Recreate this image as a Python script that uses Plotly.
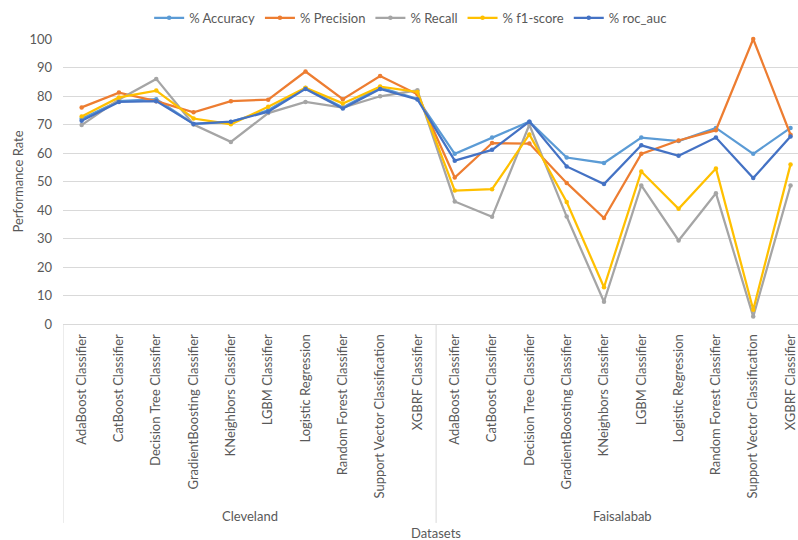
import plotly.graph_objects as go

models = ["AdaBoost Classifier", "CatBoost Classifier", "Decision Tree Classifier",
          "GradientBoosting Classifier", "KNeighbors Classifier", "LGBM Classifier",
          "Logistic Regression", "Random Forest Classifier",
          "Support Vector Classification", "XGBRF Classifier"]
datasets = ["Cleveland", "Faisalabab"]

accuracy_cle = [72.0, 78.2, 78.9, 70.2, 70.9, 75.0, 82.8, 76.0, 83.0, 79.0]
precision_cle = [76.0, 81.2, 78.2, 74.3, 78.2, 78.7, 88.6, 78.9, 87.0, 80.6]
recall_cle = [69.8, 78.8, 86.0, 70.0, 63.9, 74.0, 77.9, 75.9, 79.9, 82.0]
f1_cle = [72.8, 79.5, 81.9, 72.1, 70.1, 76.2, 82.9, 77.4, 83.3, 81.4]
roc_cle = [71.3, 77.9, 78.2, 70.2, 71.0, 74.5, 82.5, 75.6, 82.5, 78.8]

accuracy_fai = [59.7, 65.4, 71.0, 58.4, 56.5, 65.4, 64.2, 68.8, 59.7, 68.8]
precision_fai = [51.4, 63.5, 63.3, 49.5, 37.2, 59.7, 64.4, 68.0, 100.0, 66.4]
recall_fai = [43.0, 37.6, 69.9, 37.7, 7.8, 48.6, 29.3, 45.9, 2.6, 48.6]
f1_fai = [46.8, 47.3, 66.5, 42.8, 12.9, 53.5, 40.4, 54.6, 5.0, 56.0]
roc_fai = [57.3, 61.1, 71.0, 55.3, 49.1, 62.7, 59.0, 65.4, 51.2, 65.8]

series_names = ["% Accuracy", "% Precision", "% Recall", "% f1-score", "% roc_auc"]
colors = ["#5B9BD5", "#ED7D31", "#A5A5A5", "#FFC000", "#4472C4"]
series_vals = [accuracy_cle + accuracy_fai, precision_cle + precision_fai,
               recall_cle + recall_fai, f1_cle + f1_fai, roc_cle + roc_fai]

labels = models + models
xs = list(range(len(labels)))

FONT = "Lato"
TXT = "#595959"

fig = go.Figure()
for name, col, vals in zip(series_names, colors, series_vals):
    fig.add_trace(go.Scatter(
        x=xs, y=vals, name=name, mode="lines+markers",
        line=dict(color=col, width=2.25),
        marker=dict(color=col, size=4.5),
        cliponaxis=False,
    ))

n = len(models)
# group separators below axis
for xv in [-0.5, n - 0.5, 2 * n - 0.5]:
    fig.add_shape(type="line", xref="x", yref="paper", x0=xv, x1=xv, y0=0, y1=-0.698,
                  line=dict(color="#d9d9d9", width=1))

for i, ds in enumerate(datasets):
    fig.add_annotation(x=i * n + (n - 1) / 2, y=-0.674, xref="x", yref="paper",
                       text=ds, showarrow=False, yanchor="middle",
                       font=dict(family=FONT, size=13, color=TXT))

fig.add_annotation(x=n - 0.5, y=-0.733, xref="x", yref="paper", text="Datasets",
                   showarrow=False, yanchor="middle",
                   font=dict(family=FONT, size=13, color=TXT))

fig.update_layout(
    width=798, height=540,
    margin=dict(l=63, r=0, t=39, b=216, autoexpand=False),
    paper_bgcolor="white", plot_bgcolor="white",
    font=dict(family=FONT, size=13, color=TXT),
    showlegend=True,
    legend=dict(orientation="h", x=0.473, xanchor="center", y=1.074, yanchor="middle",
                font=dict(family=FONT, size=13, color=TXT),
                itemwidth=30, tracegroupgap=0),
    xaxis=dict(
        range=[-0.5, 19.2], tickmode="array", tickvals=xs, ticktext=labels,
        tickangle=-90, showgrid=False, zeroline=False, automargin=False,
        showline=True, linecolor="#d9d9d9", linewidth=1,
        ticks="", tickfont=dict(family=FONT, size=13, color=TXT),
        ticklabelstandoff=4,
    ),
    yaxis=dict(
        range=[0, 100], dtick=10, showgrid=True, gridcolor="#d9d9d9", gridwidth=1,
        zeroline=False, showline=False, ticks="", automargin=False,
        tickfont=dict(family=FONT, size=13, color=TXT), ticklabelstandoff=10,
        title=dict(text="Performance Rate", font=dict(family=FONT, size=13, color=TXT),
                   standoff=2),
    ),
)

fig.write_html("out.html", config={"displayModeBar": False},
               post_script="document.body.style.margin='0';")
